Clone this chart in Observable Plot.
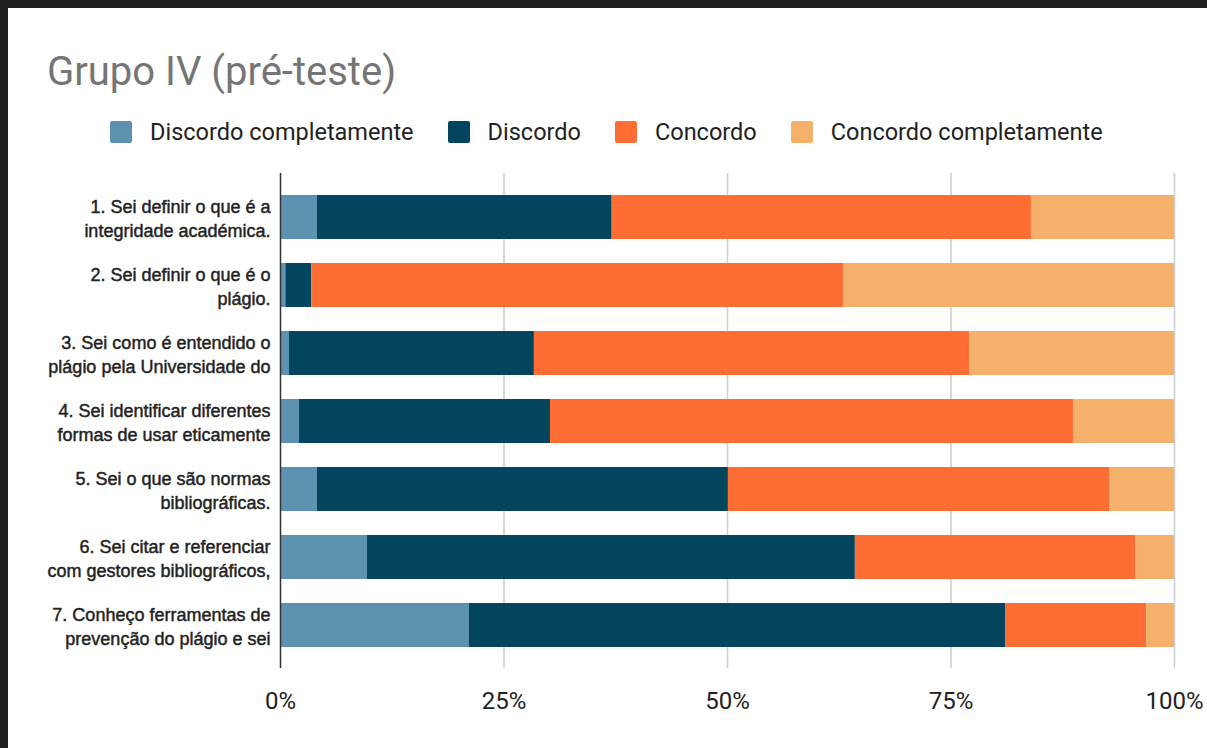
<!DOCTYPE html>
<html>
<head>
<meta charset="utf-8">
<script src="https://cdn.jsdelivr.net/npm/d3@7"></script>
<script src="https://cdn.jsdelivr.net/npm/@observablehq/plot@0.6"></script>
<style>
  html, body { margin: 0; padding: 0; background: #202020; width: 1207px; height: 748px; overflow: hidden; }
  #frame { position: absolute; left: 8px; top: 8px; width: 1199px; height: 740px; background: #fff; font-family: Roboto, "Noto Sans", sans-serif; }
  #title { position: absolute; left: 39px; top: 44px; font-size: 40px; line-height: 40px; color: #757575; white-space: nowrap; }
  #legend { position: absolute; left: 102px; top: 112px; height: 24px; display: flex; align-items: center; gap: 34px; font-size: 23.5px; color: #222; white-space: nowrap; }
  .item { display: flex; align-items: center; gap: 18px; }
  .sw { width: 22px; height: 22px; border-radius: 2px; }
  #chart { position: absolute; left: 0; top: 140px; }
  #chart g[aria-label="y-axis tick label"] text { stroke: #222; stroke-width: 0.45px; paint-order: stroke; }
</style>
</head>
<body>
<div id="frame">
  <div id="title">Grupo IV (pré-teste)</div>
  <div id="legend"></div>
  <div id="chart"></div>
</div>
<script>
const questions = [
  "1. Sei definir o que é a\nintegridade académica.",
  "2. Sei definir o que é o\nplágio.",
  "3. Sei como é entendido o\nplágio pela Universidade do",
  "4. Sei identificar diferentes\nformas de usar eticamente",
  "5. Sei o que são normas\nbibliográficas.",
  "6. Sei citar e referenciar\ncom gestores bibliográficos,",
  "7. Conheço ferramentas de\nprevenção do plágio e sei"
];
const categories = ["Discordo completamente", "Discordo", "Concordo", "Concordo completamente"];
const colors = ["#5b93b1", "#03455f", "#fe6d33", "#f5b16c"];
const discordoCompletamente = [4.1, 0.6, 1.0, 2.1, 4.1, 9.7, 21.1];
const discordo = [33.0, 2.9, 27.4, 28.1, 46.0, 54.6, 60.0];
const concordo = [46.9, 59.5, 48.7, 58.5, 42.7, 31.4, 15.8];
const concordoCompletamente = [16.0, 37.0, 22.9, 11.3, 7.2, 4.3, 3.1];
const xTicks = [0, 25, 50, 75, 100];

const series = [discordoCompletamente, discordo, concordo, concordoCompletamente];
const rows = [];
series.forEach((vals, c) => vals.forEach((v, i) => rows.push({q: questions[i], cat: categories[c], v})));

// legend
const legend = document.getElementById("legend");
categories.forEach((c, i) => {
  const it = document.createElement("div");
  it.className = "item";
  const sw = document.createElement("div");
  sw.className = "sw";
  sw.style.background = colors[i];
  const t = document.createElement("span");
  t.textContent = c;
  it.append(sw, t);
  legend.append(it);
});

const chart = Plot.plot({
  width: 1199,
  height: 592,
  marginLeft: 272,
  marginRight: 33,
  marginTop: 25,
  marginBottom: 72,
  style: {fontFamily: "Roboto, 'Noto Sans', sans-serif", color: "#222", background: "#fff"},
  x: {domain: [0, 100]},
  y: {domain: questions, paddingInner: 0.358, paddingOuter: 0.29},
  color: {domain: categories, range: colors},
  marks: [
    Plot.gridX(xTicks.slice(1), {stroke: "#cfcfcf", strokeOpacity: 1, strokeWidth: 1.6}),
    Plot.barX(rows, {y: "q", x: "v", fill: "cat"}),
    Plot.ruleX([0], {stroke: "#333", strokeWidth: 1.5}),
    Plot.axisX(xTicks, {anchor: "bottom", tickSize: 0, tickPadding: 23, fontSize: 24, tickFormat: d => d + "%", label: null}),
    Plot.axisY({anchor: "left", tickSize: 0, tickPadding: 10, fontSize: 18, fontFamily: "'Liberation Sans', Arial, sans-serif", lineHeight: 1.33, label: null})
  ]
});
document.getElementById("chart").append(chart);
</script>
</body>
</html>
